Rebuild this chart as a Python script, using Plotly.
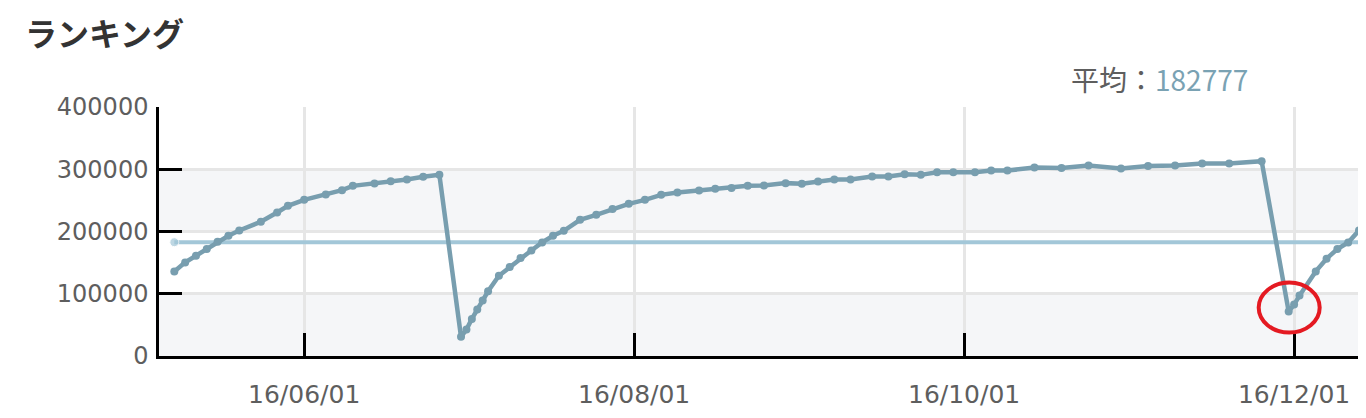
import plotly.graph_objects as go

# ---------------- data ----------------
dates = [
    "2016-05-08", "2016-05-10", "2016-05-12", "2016-05-14", "2016-05-16", "2016-05-18",
    "2016-05-20", "2016-05-24", "2016-05-27", "2016-05-29", "2016-06-01", "2016-06-05",
    "2016-06-08", "2016-06-10", "2016-06-14", "2016-06-17", "2016-06-20", "2016-06-23",
    "2016-06-26",
    "2016-06-30", "2016-07-01", "2016-07-02", "2016-07-03", "2016-07-04", "2016-07-05",
    "2016-07-07", "2016-07-09", "2016-07-11", "2016-07-13", "2016-07-15", "2016-07-17",
    "2016-07-19", "2016-07-22", "2016-07-25", "2016-07-28", "2016-07-31",
    "2016-08-03", "2016-08-06", "2016-08-09", "2016-08-13", "2016-08-16", "2016-08-19",
    "2016-08-22", "2016-08-25", "2016-08-29",
    "2016-09-01", "2016-09-04", "2016-09-07", "2016-09-10", "2016-09-14", "2016-09-17",
    "2016-09-20", "2016-09-23", "2016-09-26", "2016-09-29",
    "2016-10-03", "2016-10-06", "2016-10-09", "2016-10-14", "2016-10-19", "2016-10-24",
    "2016-10-30",
    "2016-11-04", "2016-11-09", "2016-11-14", "2016-11-19", "2016-11-25",
    "2016-11-30", "2016-12-01", "2016-12-02", "2016-12-05", "2016-12-07", "2016-12-09",
    "2016-12-11", "2016-12-13", "2016-12-15",
]
ranks = [
    135900, 150400, 161100, 171800, 183600, 193200,
    201700, 215600, 230500, 241300, 250900, 259400,
    266400, 273300, 277100, 280800, 283400, 287800,
    291000,
    30800, 42500, 59600, 74500, 89000, 103900,
    129000, 143000, 157400, 169600, 182400, 193200,
    201200, 218800, 226800, 236000, 244500,
    250900, 258900, 262600, 265800, 268800, 269800,
    273300, 273800, 277700,
    276600, 280200, 283400, 283400, 288300, 288300,
    292100, 291000, 295300, 295300,
    295300, 297900, 297900, 302700, 302200, 305900,
    301100,
    305400, 305900, 309100, 309100, 312900,
    71300, 82600, 97000, 135900, 156300, 171900,
    182400, 201700, 210000,
]
AVERAGE = 182777
HIGHLIGHT_DATE = "2016-11-30"
HIGHLIGHT_VALUE = 71300

x_range = ["2016-05-05 04:00", "2016-12-14 07:00"]
x_ticks = ["2016-06-01", "2016-08-01", "2016-10-01", "2016-12-01"]
x_ticktext = ["16/06/01", "16/08/01", "16/10/01", "16/12/01"]
y_ticks = [0, 100000, 200000, 300000, 400000]
y_ticktext = ["0", "100000", "200000", "300000", "400000"]

LINE = "#789eaf"
AVG = "#a3c7d8"
BAND = "#f5f6f8"
GRID = "#e6e6e6"
TXT = "#5e5e5e"

# page body adds an 8px offset; figure is sized so it fits the window exactly
W, H = 1358, 402
ML, MT = 151, 99
PH = 356.5 - 107
MB = H - MT - PH
PW = W - ML

fig = go.Figure()

# average line (with dot at the start)
fig.add_trace(go.Scatter(
    x=[dates[0], "2016-12-31"], y=[AVERAGE, AVERAGE],
    mode="lines+markers",
    line=dict(color=AVG, width=4),
    marker=dict(size=[9, 0], color=AVG),
    hoverinfo="skip", showlegend=False,
))

# ranking line
fig.add_trace(go.Scatter(
    x=dates, y=ranks, mode="lines+markers",
    line=dict(color=LINE, width=4.5),
    marker=dict(size=8, color=LINE),
    showlegend=False,
))

shapes = []
for lo, hi in [(0, 100000), (200000, 300000)]:
    shapes.append(dict(type="rect", xref="paper", yref="y", x0=0, x1=1, y0=lo, y1=hi,
                       fillcolor=BAND, line=dict(width=0), layer="below"))
# highlight ring
shapes.append(dict(type="circle", xref="x", yref="y", xsizemode="pixel", ysizemode="pixel",
                   xanchor=HIGHLIGHT_DATE, yanchor=HIGHLIGHT_VALUE,
                   x0=-30, x1=31, y0=-21, y1=29,
                   line=dict(color="#e41a22", width=4), layer="above"))

fig.update_layout(
    width=W, height=H,
    margin=dict(l=ML, r=0, t=MT, b=MB, pad=0),
    paper_bgcolor="white", plot_bgcolor="white",
    shapes=shapes,
    title=dict(text="<b>ランキング</b>", x=17 / W, xanchor="left",
               y=1 - 27 / H, yanchor="middle",
               font=dict(family="Noto Sans CJK JP", size=32, color="#333333")),
    annotations=[dict(
        xref="paper", yref="paper", x=(1250 - 8 - ML) / PW, y=(356.5 - 79) / PH,
        xanchor="right", yanchor="middle", showarrow=False,
        text="平均：<span style='color:#7aa2b3'>182777</span>",
        font=dict(family="Noto Sans CJK JP", size=28, color=TXT),
    )],
    xaxis=dict(
        type="date", range=x_range, automargin=False,
        tickmode="array", tickvals=x_ticks, ticktext=x_ticktext,
        ticks="inside", ticklen=23, tickwidth=2.5, tickcolor="black",
        showline=True, linecolor="black", linewidth=2.5,
        showgrid=True, gridcolor=GRID, gridwidth=3,
        tickfont=dict(family="DejaVu Sans", size=25, color=TXT),
        ticklabelstandoff=14,
        fixedrange=True,
    ),
    yaxis=dict(
        range=[0, 400000], automargin=False,
        tickmode="array", tickvals=y_ticks, ticktext=y_ticktext,
        ticks="inside", ticklen=23, tickwidth=2.5, tickcolor="black",
        showline=True, linecolor="black", linewidth=2.5,
        showgrid=True, gridcolor=GRID, gridwidth=3, zeroline=False,
        tickfont=dict(family="DejaVu Sans", size=24, color=TXT),
        ticklabelstandoff=3,
        fixedrange=True,
    ),
)

fig.write_html("out.html")
